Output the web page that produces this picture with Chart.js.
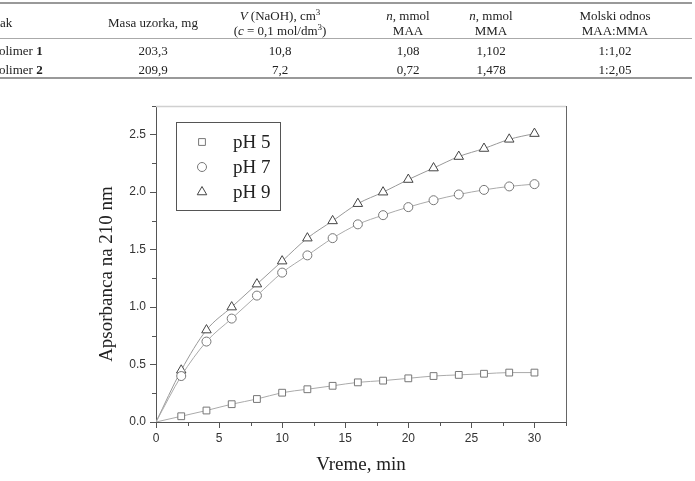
<!DOCTYPE html>
<html>
<head>
<meta charset="utf-8">
<script src="https://cdn.jsdelivr.net/npm/chart.js@4.4.1/dist/chart.umd.min.js"></script>
<style>
  html, body { margin:0; padding:0; background:#fff; }
  body { width:695px; height:481px; position:relative; overflow:hidden; }
  #c { position:absolute; left:0; top:0; }
  .t { position:absolute; font-family:"Liberation Serif","Times New Roman",serif; font-size:13px; color:#222; white-space:nowrap; line-height:15px; }
  .cc { transform:translate(-50%,-50%); text-align:center; }
  .lc { transform:translate(0,-50%); }
  .hl { position:absolute; left:0; width:692px; background:#999; }
  sup { font-size:9px; line-height:0; vertical-align:5px; }
</style>
</head>
<body>
<canvas id="c" width="695" height="481"></canvas>
<div id="tbl"></div>
<script>
// ---- table data ----
const tableRowNames = ['olimer ', 'olimer '];
const tableRowNums = ['1', '2'];
const masaUzorka = ['203,3', '209,9'];
const vNaOH = ['10,8', '7,2'];
const nMAA = ['1,08', '0,72'];
const nMMA = ['1,102', '1,478'];
const molskiOdnos = ['1:1,02', '1:2,05'];

// ---- chart data ----
const times = [0, 2, 4, 6, 8, 10, 12, 14, 16, 18, 20, 22, 24, 26, 28, 30];
const ph5 = [0, 0.05, 0.10, 0.155, 0.20, 0.255, 0.285, 0.315, 0.345, 0.36, 0.38, 0.40, 0.41, 0.42, 0.43, 0.43];
const ph7 = [0, 0.40, 0.70, 0.90, 1.10, 1.30, 1.45, 1.60, 1.72, 1.80, 1.87, 1.93, 1.98, 2.02, 2.05, 2.07];
const ph9 = [0, 0.45, 0.80, 1.00, 1.20, 1.40, 1.60, 1.75, 1.90, 2.00, 2.11, 2.21, 2.31, 2.38, 2.46, 2.51];
const seriesLabels = ['pH 5', 'pH 7', 'pH 9'];
const yTitle = 'Apsorbanca na 210 nm';
const xTitle = 'Vreme, min';
const xTickStep = 2.5, yTickStep = 0.25;

// ---- build table ----
const tbl = document.getElementById('tbl');
function addText(html, x, y, cls) {
  const d = document.createElement('div');
  d.className = 't ' + cls;
  d.style.left = x + 'px';
  d.style.top = y + 'px';
  d.innerHTML = html;
  tbl.appendChild(d);
}
function addLine(y, h, col) {
  const d = document.createElement('div');
  d.className = 'hl';
  d.style.top = y + 'px';
  d.style.height = h + 'px';
  d.style.background = col;
  tbl.appendChild(d);
}
addLine(2, 2, '#999');
addLine(38, 1, '#aaa');
addLine(77, 2, '#999');
addText('ak', 0, 22, 'lc');
addText('Masa uzorka, mg', 153, 22, 'cc');
addText('<i>V</i> (NaOH), cm<sup>3</sup>', 280, 15, 'cc');
addText('(<i>c</i> = 0,1 mol/dm<sup>3</sup>)', 280, 30, 'cc');
addText('<i>n</i>, mmol', 408, 15, 'cc');
addText('MAA', 408, 30, 'cc');
addText('<i>n</i>, mmol', 491, 15, 'cc');
addText('MMA', 491, 30, 'cc');
addText('Molski odnos', 615, 15, 'cc');
addText('MAA:MMA', 615, 30, 'cc');
const rowY = [50, 69];
for (let i = 0; i < 2; i++) {
  addText(tableRowNames[i] + '<b>' + tableRowNums[i] + '</b>', -1, rowY[i], 'lc');
  addText(masaUzorka[i], 153, rowY[i], 'cc');
  addText(vNaOH[i], 280, rowY[i], 'cc');
  addText(nMAA[i], 408, rowY[i], 'cc');
  addText(nMMA[i], 491, rowY[i], 'cc');
  addText(molskiOdnos[i], 615, rowY[i], 'cc');
}

// ---- chart ----
const toXY = arr => times.map((t, i) => ({x: t, y: arr[i]}));
const styles = [
  {ps: 'rect', r: 4.8, pc: '#777', lc: '#aaa'},
  {ps: 'circle', r: 4.5, pc: '#777', lc: '#aaa'},
  {ps: 'triangle', r: 5.5, pc: '#444', lc: '#999'}
];
const seriesData = [ph5, ph7, ph9];
const datasets = seriesData.map((arr, k) => ({
  label: seriesLabels[k],
  data: toXY(arr),
  showLine: true,
  borderColor: styles[k].lc,
  borderWidth: 1,
  tension: 0.4,
  cubicInterpolationMode: 'monotone',
  pointStyle: styles[k].ps,
  pointRadius: ctx => ctx.dataIndex === 0 ? 0 : styles[k].r,
  pointBorderColor: styles[k].pc,
  pointBackgroundColor: '#fff',
  pointBorderWidth: 1,
  pointHoverRadius: 0
}));

const isMul = (v, m) => Math.abs(v / m - Math.round(v / m)) < 1e-6;
const serif = '"Liberation Serif", "Times New Roman", serif';

const framePlugin = {
  id: 'frame',
  afterDraw(chart) {
    const {ctx, chartArea: a, scales} = chart;
    ctx.save();
    // top (light) and right (dark) borders
    ctx.strokeStyle = '#d0d0d0';
    ctx.lineWidth = 1.5;
    ctx.beginPath(); ctx.moveTo(a.left, a.top + 0.5); ctx.lineTo(a.right, a.top + 0.5); ctx.stroke();
    ctx.strokeStyle = '#666';
    ctx.lineWidth = 1;
    ctx.beginPath(); ctx.moveTo(a.right + 0.5, a.top); ctx.lineTo(a.right + 0.5, a.bottom); ctx.stroke();
    // minor ticks
    ctx.strokeStyle = '#555';
    ctx.beginPath();
    scales.x.ticks.forEach(t => {
      if (!isMul(t.value, 5)) {
        const px = Math.round(scales.x.getPixelForValue(t.value)) + 0.5;
        ctx.moveTo(px, a.bottom); ctx.lineTo(px, a.bottom + 4);
      }
    });
    scales.y.ticks.forEach(t => {
      if (!isMul(t.value, 0.5)) {
        const py = Math.round(scales.y.getPixelForValue(t.value)) + 0.5;
        ctx.moveTo(a.left, py); ctx.lineTo(a.left - 4, py);
      }
    });
    ctx.stroke();
    // y axis title
    ctx.save();
    ctx.translate(107, 274);
    ctx.rotate(-Math.PI / 2);
    ctx.font = '19px ' + serif;
    ctx.fillStyle = '#222';
    ctx.textAlign = 'center';
    ctx.textBaseline = 'middle';
    ctx.fillText(yTitle, 0, 0);
    ctx.restore();
    // legend box
    const bx = 176, by = 122, bw = 104, bh = 88;
    ctx.strokeStyle = '#555';
    ctx.lineWidth = 1;
    ctx.strokeRect(bx + 0.5, by + 0.5, bw, bh);
    ctx.font = '19px ' + serif;
    ctx.textBaseline = 'middle';
    ctx.textAlign = 'left';
    chart.data.datasets.forEach((ds, k) => {
      const y = 142 + k * 25;
      ctx.strokeStyle = styles[k].pc;
      ctx.fillStyle = '#fff';
      Chart.helpers.drawPoint(ctx, {pointStyle: ds.pointStyle, radius: styles[k].r, rotation: 0, borderWidth: 1}, 202, y);
      ctx.fillStyle = '#222';
      ctx.fillText(ds.label, 233, y + 1);
    });
    ctx.restore();
  }
};

new Chart(document.getElementById('c'), {
  type: 'scatter',
  data: {datasets},
  options: {
    responsive: false,
    animation: false,
    devicePixelRatio: 1,
    layout: {padding: {left: 0, top: 106, right: 129, bottom: 0}},
    plugins: {legend: {display: false}, tooltip: {enabled: false}},
    scales: {
      x: {
        type: 'linear', min: 0, max: 32.5,
        afterFit: s => { s.height = 59; },
        border: {color: '#555', width: 1},
        grid: {drawOnChartArea: false, drawTicks: true, tickLength: 6,
               tickColor: ctx => (ctx.tick && isMul(ctx.tick.value, 5)) ? '#555' : 'rgba(0,0,0,0)'},
        ticks: {stepSize: xTickStep, autoSkip: false, maxRotation: 0, padding: 3,
                color: '#333', font: {family: '"Liberation Sans", Arial, sans-serif', size: 12},
                callback: v => isMul(v, 5) ? String(Math.round(v)) : ''},
        title: {display: true, text: xTitle, color: '#222',
                font: {family: serif, size: 19},
                padding: {top: 0, bottom: 4.6}}
      },
      y: {
        type: 'linear', min: 0, max: 2.75,
        afterFit: s => { s.width = 156; },
        border: {color: '#555', width: 1},
        grid: {drawOnChartArea: false, drawTicks: true, tickLength: 6,
               tickColor: ctx => (ctx.tick && isMul(ctx.tick.value, 0.5)) ? '#555' : 'rgba(0,0,0,0)'},
        ticks: {stepSize: yTickStep, autoSkip: false, padding: 4,
                color: '#333', font: {family: '"Liberation Sans", Arial, sans-serif', size: 12},
                callback: v => isMul(v, 0.5) ? v.toFixed(1) : ''},
        title: {display: false}
      }
    }
  },
  plugins: [framePlugin]
});
</script>
</body>
</html>
